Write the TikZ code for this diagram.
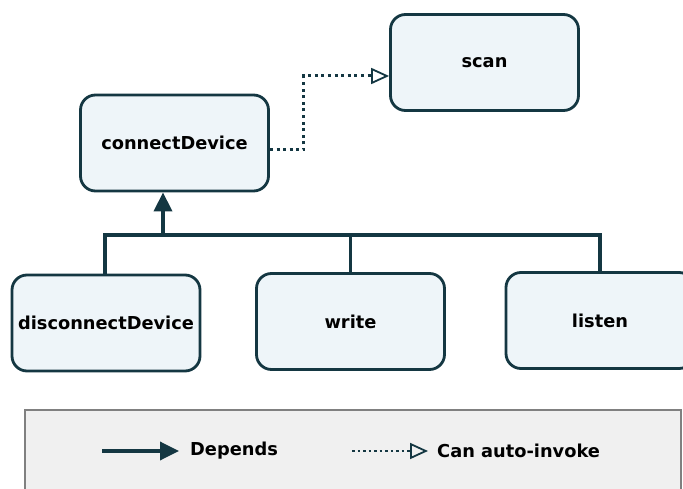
\documentclass[tikz,border=0pt]{standalone}
\usepackage{fontspec}
\setmainfont{DejaVu Sans}
\usepackage{tikz}
\usetikzlibrary{arrows.meta,positioning,calc}

\definecolor{boxline}{RGB}{20,55,66}
\definecolor{boxfill}{RGB}{238,245,249}
\definecolor{legfill}{RGB}{240,240,240}
\definecolor{legline}{RGB}{128,128,128}

\begin{document}
\begin{tikzpicture}[x=1pt, y=-1pt,
    fnbox/.style={draw=boxline, fill=boxfill, line width=2.8pt, rounded corners=15pt,
        minimum width=188pt, minimum height=96pt, font=\fontsize{17.8}{20}\selectfont\bfseries},
    depline/.style={draw=boxline, line width=3.5pt},
    autoinv/.style={draw=boxline, line width=3pt, dash pattern=on 3pt off 3.6pt,
        -{Triangle[open, length=18pt, width=16pt, line width=1.8pt]}},
    legtext/.style={font=\fontsize{17.8}{20}\selectfont\bfseries, anchor=west, inner sep=0pt}]
    \useasboundingbox (0,0) rectangle (683,489);

    % Functions
    \node[fnbox] (scan) at (484.5,62.5) {scan};
    \node[fnbox] (connect) at (174.5,143) {connectDevice};
    \node[fnbox] (disc) at (106,323) {disconnectDevice};
    \node[fnbox] (write) at (350.5,321.5) {write};
    \node[fnbox] (listen) at (600,320.5) {listen};

    % Depends tree
    \coordinate (bus) at (163,235);
    \draw[depline] ([xshift=-1pt]disc.north) |- (bus) -| (listen.north);
    \draw[depline] (write.north) -- (write.north |- bus);
    \draw[depline, -{Triangle[length=19pt, width=18pt]}] (bus) -- (connect.south -| bus);

    % Can auto-invoke
    \draw[autoinv] ([yshift=-7pt]connect.east) -- ++(34,0) |- ([yshift=-13.5pt]scan.west);

    % Legend
    \draw[draw=legline, fill=legfill, line width=2.5pt] (25,410) rectangle (681,500);
    \coordinate (depA) at (102,451);
    \node[legtext] (depT) at (190,451) {Depends};
    \draw[depline, -{Triangle[length=19pt, width=18pt]}] (depA) -- ([xshift=-11pt]depT.west);
    \coordinate (invA) at (352,451);
    \node[legtext] (invT) at (437,451) {Can auto-invoke};
    \draw[autoinv, line width=2.5pt, dash pattern=on 2.5pt off 3pt] (invA) -- ([xshift=-9pt]invT.west);
\end{tikzpicture}
\end{document}
